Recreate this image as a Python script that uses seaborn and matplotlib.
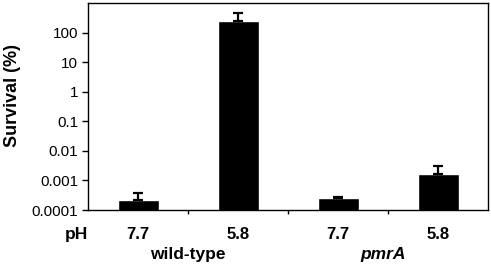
import matplotlib
matplotlib.use("Agg")
import matplotlib.pyplot as plt
import seaborn as sns
import pandas as pd
import numpy as np

sns.set_style("white")
plt.rcParams['font.family'] = ['Liberation Sans', 'DejaVu Sans']
plt.rcParams['text.color'] = 'black'
plt.rcParams['axes.labelcolor'] = 'black'
plt.rcParams['xtick.color'] = 'black'
plt.rcParams['ytick.color'] = 'black'

conditions = ["wt 7.7", "wt 5.8", "pmrA 7.7", "pmrA 5.8"]
ph_labels = ["7.7", "5.8", "7.7", "5.8"]
survival = [2.1e-4, 250, 2.5e-4, 1.65e-3]
err_upper = [1.7e-4, 220, 0.35e-4, 1.45e-3]
strains = ["wild-type", "pmrA"]

df = pd.DataFrame({"cond": conditions, "survival": survival})

fig = plt.figure(figsize=(4.91, 2.68), dpi=100)
ax = fig.add_axes([88/491, 1 - 210/268, 400/491, 207/268])

sns.barplot(data=df, x="cond", y="survival", color="black", width=0.41,
            saturation=1, ax=ax, errorbar=None, log_scale=True)
xs = np.arange(len(conditions))
ax.errorbar(xs, survival, yerr=[np.zeros(len(survival)), err_upper],
            fmt="none", ecolor="black", elinewidth=1.6, capsize=3.5, capthick=1.6)

ax.set_yscale("log")
ax.set_ylim(1e-4, 1e3)
yt = [1e-4, 1e-3, 1e-2, 1e-1, 1, 10, 100]
ax.set_yticks(yt)
ax.set_yticklabels(["0.0001", "0.001", "0.01", "0.1", "1", "10", "100"])
ax.minorticks_off()
ax.set_xlim(-0.5, 3.5)
ax.set_xticks([0.5, 1.5, 2.5], minor=False)
ax.set_xticklabels([])
ax.tick_params(axis="x", bottom=True, direction="out", length=3, width=1, color="black")
ax.tick_params(axis="y", left=True, direction="out", length=4, width=1, color="black",
               labelcolor="black", labelsize=11, pad=3)
for s in ax.spines.values():
    s.set_color("black")
    s.set_linewidth(1)
ax.set_xlabel("")
ax.set_ylabel("Survival (%)", fontsize=13, fontweight="bold", labelpad=8, color="black")
ax.yaxis.set_label_coords(-0.168, 0.555)

trans = ax.get_xaxis_transform()
for x, lab in zip(xs, ph_labels):
    ax.text(x, -0.12, lab, transform=trans, ha="center", va="center",
            fontsize=12, fontweight="bold", color="black")
ax.text(-0.62, -0.12, "pH", transform=trans, ha="center", va="center",
        fontsize=12.5, fontweight="bold", color="black")
ax.text(0.5, -0.215, strains[0], transform=trans, ha="center", va="center",
        fontsize=12.5, fontweight="bold", color="black")
ax.text(2.45, -0.215, strains[1], transform=trans, ha="center", va="center",
        fontsize=12.5, fontweight="bold", style="italic", color="black")

fig.savefig("out.png", dpi=100)
